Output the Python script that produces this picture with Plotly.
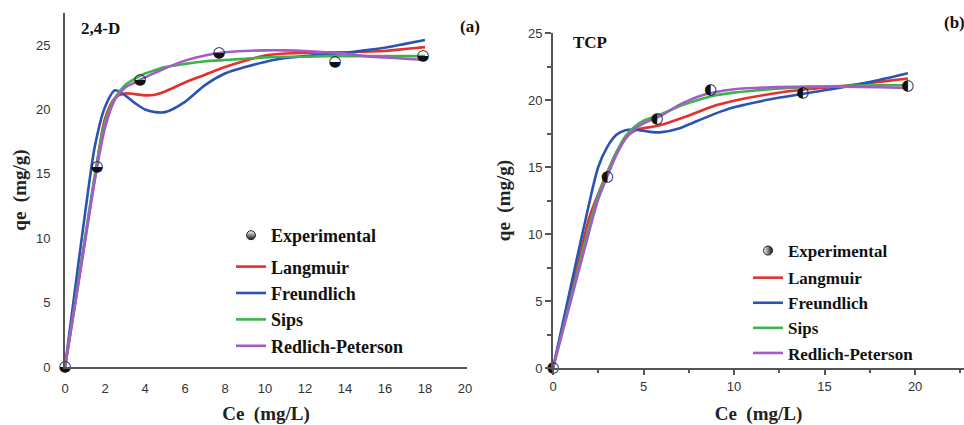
import plotly.graph_objects as go

W, H = 964, 425

# ---------------- Panel (a): 2,4-D ----------------
exp_a_x = [0, 1.6, 3.75, 7.7, 13.5, 17.9]
exp_a_y = [0, 15.5, 22.3, 24.4, 23.7, 24.15]

fit_a_x = [0, 0.5, 1.0, 1.5, 2.0, 2.5, 3.0, 3.5, 4.0, 4.5, 5.0, 6.0, 7.0, 8.0, 9.0, 10, 11, 12, 13, 14, 15, 16, 17, 18]
langmuir_a = [0, 4.9, 9.9, 14.8, 19.3, 20.9, 21.25, 21.2, 21.1, 21.15, 21.4, 22.1, 22.7, 23.3, 23.8, 24.2, 24.35, 24.4, 24.45, 24.45, 24.5, 24.55, 24.7, 24.85]
freundlich_a = [0, 6.0, 11.9, 17.2, 20.2, 21.5, 21.1, 20.5, 20.0, 19.8, 19.8, 20.6, 21.9, 22.8, 23.3, 23.7, 24.0, 24.15, 24.3, 24.4, 24.6, 24.8, 25.1, 25.4]
sips_a = [0, 5.0, 10.0, 15.0, 19.0, 20.9, 21.9, 22.4, 22.8, 23.05, 23.3, 23.55, 23.75, 23.85, 23.95, 24.05, 24.1, 24.1, 24.15, 24.15, 24.15, 24.15, 24.15, 24.15]
redlich_a = [0, 4.8, 9.7, 14.6, 18.6, 20.8, 21.7, 22.1, 22.5, 22.85, 23.2, 23.8, 24.2, 24.45, 24.55, 24.6, 24.6, 24.55, 24.45, 24.35, 24.15, 24.05, 23.95, 23.85]

# ---------------- Panel (b): TCP ----------------
exp_b_x = [0, 3.0, 5.75, 8.7, 13.8, 19.6]
exp_b_y = [0, 14.2, 18.6, 20.7, 20.5, 21.0]

fit_b_x = [0, 1, 2, 2.5, 3, 3.5, 4, 4.5, 5, 5.5, 6, 7, 8, 9, 10, 12, 14, 16, 18, 19.6]
langmuir_b = [0, 5.6, 11.2, 13.0, 14.6, 16.1, 17.2, 17.7, 17.9, 18.0, 18.15, 18.6, 19.1, 19.6, 19.95, 20.45, 20.8, 21.05, 21.35, 21.6]
freundlich_b = [0, 6.2, 12.3, 15.0, 16.5, 17.4, 17.75, 17.8, 17.7, 17.6, 17.6, 17.9, 18.45, 19.0, 19.45, 20.05, 20.5, 20.95, 21.5, 22.0]
sips_b = [0, 5.3, 10.6, 12.9, 14.6, 16.1, 17.3, 18.0, 18.45, 18.7, 18.95, 19.55, 20.0, 20.35, 20.55, 20.8, 20.95, 21.05, 21.1, 21.1]
redlich_b = [0, 5.1, 10.2, 12.6, 14.3, 15.9, 17.1, 17.8, 18.25, 18.55, 18.85, 19.65, 20.25, 20.6, 20.8, 20.95, 21.0, 21.0, 20.95, 20.9]

model_names = ["Langmuir", "Freundlich", "Sips", "Redlich-Peterson"]
colors = ["#e63030", "#2b53b3", "#3cb44b", "#a55ac8"]

SERIF = "Liberation Serif"
SANS = "Liberation Sans, Arial"

fig = go.Figure()

def add_panel(xref, yref, legend, exp_x, exp_y, glyph, gradtype, fit_x, fits):
    # legend entry for experimental points (half-filled marker)
    fig.add_trace(go.Scatter(
        x=[None], y=[None], mode="markers", name="<b>Experimental</b>",
        marker=dict(symbol="circle", size=9, color="white",
                    line=dict(color="#222", width=1),
                    gradient=dict(type=gradtype, color="#111")),
        xaxis=xref, yaxis=yref, legend=legend, legendgroup="exp" + legend,
    ))
    for name, col, ys in zip(model_names, colors, fits):
        fig.add_trace(go.Scatter(
            x=fit_x, y=ys, mode="lines", name="<b>%s</b>" % name,
            line=dict(color=col, width=2.6, shape="spline", smoothing=0.8),
            xaxis=xref, yaxis=yref, legend=legend, legendgroup="fit" + legend,
            cliponaxis=False,
        ))
    # experimental points as half-filled circle glyphs
    fig.add_trace(go.Scatter(
        x=exp_x, y=exp_y, mode="text", text=[glyph] * len(exp_x),
        textfont=dict(family="DejaVu Sans", size=15, color="#111"),
        textposition="middle center", showlegend=False,
        xaxis=xref, yaxis=yref, cliponaxis=False,
    ))

add_panel("x", "y", "legend", exp_a_x, exp_a_y, "◒", "vertical", fit_a_x,
          [langmuir_a, freundlich_a, sips_a, redlich_a])
add_panel("x2", "y2", "legend2", exp_b_x, exp_b_y, "◐", "horizontal", fit_b_x,
          [langmuir_b, freundlich_b, sips_b, redlich_b])

axis_common = dict(showline=True, linecolor="#555", linewidth=2, showgrid=False,
                   zeroline=False, automargin=False,
                   tickfont=dict(family=SANS, size=13, color="#333"))
title_font = dict(family=SERIF, size=19, color="#222")

def px_x(p):
    return p / W

def px_y(p):
    return 1 - p / H

fig.update_layout(
    width=W, height=H, margin=dict(l=0, r=0, t=0, b=0, autoexpand=False),
    paper_bgcolor="white", plot_bgcolor="white",
    xaxis=dict(domain=[px_x(65), px_x(467)], range=[0, 20.1], tickvals=list(range(0, 21, 2)),
               ticks="", ticklabelstandoff=8, anchor="y",
               title=dict(text="<b>Ce  (mg/L)</b>", font=title_font, standoff=12), **axis_common),
    yaxis=dict(domain=[px_y(367), px_y(13)], range=[0, 27.5], tickvals=list(range(0, 26, 5)),
               ticks="", ticklabelstandoff=10, anchor="x",
               title=dict(text="<b>qe  (mg/g)</b>", font=title_font, standoff=4), **axis_common),
    xaxis2=dict(domain=[px_x(553), 1.0], range=[0, 22.7], tickvals=list(range(0, 21, 5)),
                ticks="outside", ticklen=5, tickwidth=1.5, tickcolor="#555",
                minor=dict(dtick=2.5, ticks="outside", ticklen=3, tickcolor="#555"),
                anchor="y2", title=dict(text="<b>Ce  (mg/L)</b>", font=title_font, standoff=14), **axis_common),
    yaxis2=dict(domain=[px_y(368), px_y(33)], range=[0, 25], tickvals=list(range(0, 26, 5)),
                ticks="outside", ticklen=6, tickwidth=1.5, tickcolor="#555",
                minor=dict(dtick=2.5, ticks="outside", ticklen=4, tickcolor="#555"),
                anchor="x2", title=dict(text="<b>qe  (mg/g)</b>", font=title_font, standoff=12), **axis_common),
    legend=dict(x=px_x(231), y=px_y(217), xanchor="left", yanchor="top",
                traceorder="grouped", tracegroupgap=5,
                font=dict(family=SERIF, size=18, color="#111"), bgcolor="rgba(0,0,0,0)"),
    legend2=dict(x=px_x(748), y=px_y(233), xanchor="left", yanchor="top",
                 traceorder="grouped", tracegroupgap=2,
                 font=dict(family=SERIF, size=17, color="#111"), bgcolor="rgba(0,0,0,0)"),
    showlegend=True,
)

def label(text, x, y, size=17):
    fig.add_annotation(text="<b>%s</b>" % text, x=px_x(x), y=px_y(y), xref="paper", yref="paper",
                       xanchor="left", yanchor="middle", showarrow=False,
                       font=dict(family=SERIF, size=size, color="#111"))

label("2,4-D", 79, 28)
label("(a)", 458, 27)
label("TCP", 571, 42)
label("(b)", 942, 23)

fig.write_html("out.html", config={"displayModeBar": False},
               post_script="document.body.style.margin='0';document.body.style.padding='0';")
